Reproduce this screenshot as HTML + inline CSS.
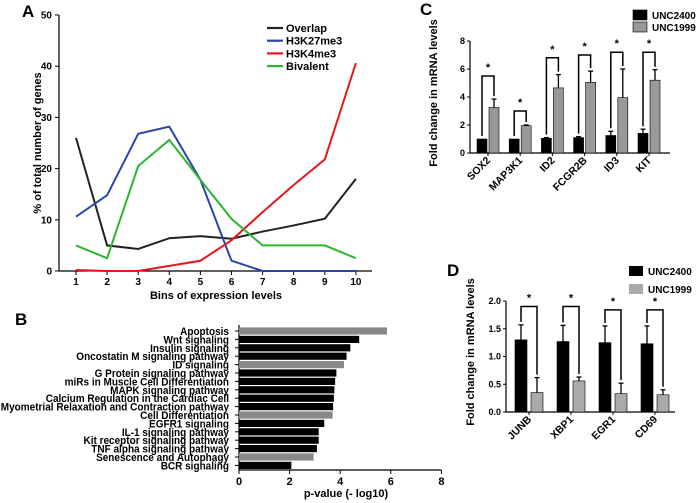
<!DOCTYPE html>
<html><head><meta charset="utf-8"><style>
html,body{margin:0;padding:0;background:#fff}
svg{display:block;font-family:"Liberation Sans",Arial,sans-serif;font-weight:bold}
</style></head><body>
<svg id="fig" width="700" height="503" viewBox="0 0 700 503">
<text x="22" y="17" font-size="17">A</text>
<text x="15" y="325" font-size="17">B</text>
<text x="420" y="15" font-size="17">C</text>
<text x="447" y="276" font-size="17">D</text>
<g id="A"></g>
<g id="B"></g>
<g id="C"></g>
<g id="D"></g>
</svg>
<script>
// Panel A data
const binsA = [1,2,3,4,5,6,7,8,9,10];
const yTicksA = [0,10,20,30,40,50];
const overlap = [26,5,4.3,6.4,6.8,6.3,7.7,8.9,10.2,18];
const h3k27 = [10.6,14.8,26.8,28.2,17.8,2,0,0,0,0];
const h3k4 = [0.2,0,0,1,2,6,11.5,16.8,21.8,40.6];
const bivalent = [5,2.5,20.5,25.6,17.8,10.2,5,5,5,2.5];
const seriesNamesA = ["Overlap","H3K27me3","H3K4me3","Bivalent"];
// Panel B data
const pathways = ["Apoptosis","Wnt signaling","Insulin signaling","Oncostatin M signaling pathway","ID signaling","G Protein signaling pathway","miRs in Muscle Cell Differentiation","MAPK signaling pathway","Calcium Regulation in the Cardiac Cell","Myometrial Relaxation and Contraction pathway","Cell Differentiation","EGFR1 signaling","IL-1 signaling pathway","Kit receptor signaling pathway","TNF alpha signaling pathway","Senescence and Autophagy","BCR signaling"];
const pvals = [5.85,4.75,4.4,4.25,4.15,3.85,3.8,3.77,3.75,3.72,3.7,3.37,3.15,3.15,3.08,2.95,2.07];
const grayFlags = [1,0,0,0,1,0,0,0,0,0,1,0,0,0,0,1,0];
const xTicksB = [0,2,4,6,8];
// Panel C data
const genesC = ["SOX2","MAP3K1","ID2","FCGR2B","ID3","KIT"];
const c2400 = [1,1,1.05,1.1,1.25,1.4];
const c2400err = [0,0,0.05,0.07,0.3,0.3];
const c1999 = [3.25,1.95,4.65,5.05,3.95,5.2];
const c1999err = [0.6,0.05,0.95,0.8,2.05,0.75];
const bracketC = [5.5,3,6.8,7,7.2,7.2];
const yTicksC = [0,2,4,6,8];
// Panel D data
const genesD = ["JUNB","XBP1","EGR1","CD69"];
const d2400 = [1.3,1.27,1.25,1.23];
const d2400err = [0.27,0.29,0.3,0.32];
const d1999 = [0.35,0.56,0.33,0.31];
const d1999err = [0.27,0.07,0.19,0.09];
const bracketD = [1.9,1.9,1.84,1.84];
const yTicksD = [0,0.5,1.0,1.5,2.0];

const NS="http://www.w3.org/2000/svg";
function mk(tag,attrs,parent,txt){const e=document.createElementNS(NS,tag);for(const k in attrs)e.setAttribute(k,attrs[k]);if(txt!==undefined)e.textContent=txt;parent.appendChild(e);return e;}

// ---------- Panel A ----------
(function(){
const g=document.getElementById('A');
const xA=b=>76+(b-1)*31.1, yA=v=>271-v*5.12;
let e;
e=mk('line',{x1:59,y1:15,x2:59,y2:271,stroke:'#000','stroke-width':1.2},g);


e=mk('line',{x1:59,y1:271,x2:372,y2:271,stroke:'#000','stroke-width':1.2},g);


yTicksA.forEach(t=>{
 mk('line',{x1:55,y1:yA(t),x2:59,y2:yA(t),stroke:'#000'},g);
 e=mk('text',{x:52,y:yA(t)+3.5,'font-size':10,'text-anchor':'end'},g,t);
 
 
});
binsA.forEach(b=>{
 mk('line',{x1:xA(b),y1:271,x2:xA(b),y2:275,stroke:'#000'},g);
 e=mk('text',{x:xA(b),y:285,'font-size':10,'text-anchor':'middle'},g,b);
 
 
});
e=mk('text',{x:216,y:299,'font-size':11,'text-anchor':'middle'},g,'Bins of expression levels');


e=mk('text',{x:0,y:0,'font-size':11,'text-anchor':'middle',transform:'translate(41,143) rotate(-90)'},g,'% of total number of genes');


const all=[overlap,h3k27,h3k4,bivalent], cols=['#222','#2b46a8','#e8161b','#2db52d'];
all.forEach((s,i)=>{
 e=mk('polyline',{points:s.map((v,j)=>xA(binsA[j])+','+yA(v)).join(' '),fill:'none',stroke:cols[i],'stroke-width':2},g);
 
 
 const ly=28+i*12.7;
 e=mk('line',{x1:267,y1:ly,x2:283,y2:ly,stroke:cols[i],'stroke-width':2.2},g);
 
 
 e=mk('text',{x:286,y:ly+4,'font-size':11},g,seriesNamesA[i]);
 
 
});
})();

// ---------- Panel B ----------
(function(){
const g=document.getElementById('B');
const xB=v=>239+v*25.3, yB=i=>331+i*8.4;
let e;
e=mk('line',{x1:239,y1:325,x2:239,y2:470,stroke:'#000','stroke-width':1.2},g);


e=mk('line',{x1:239,y1:470,x2:xB(8),y2:470,stroke:'#000','stroke-width':1.2},g);


xTicksB.forEach(t=>{
 mk('line',{x1:xB(t),y1:470,x2:xB(t),y2:474,stroke:'#000'},g);
 e=mk('text',{x:xB(t),y:485,'font-size':11,'text-anchor':'middle'},g,t);
 
 
});
e=mk('text',{x:346,y:497,'font-size':11,'text-anchor':'middle'},g,'p-value (- log10)');


pathways.forEach((p,i)=>{
 const y=yB(i);
 mk('line',{x1:235,y1:y,x2:239,y2:y,stroke:'#000'},g);
 e=mk('rect',{x:239,y:y-3.6,width:xB(pvals[i])-239,height:7.2,fill:grayFlags[i]?'#888':'#000'},g);
 
 
 e=mk('text',{x:0,y:0,'font-size':11.5,'text-anchor':'end',transform:'translate(229,'+(y+4)+') scale(0.87,1)'},g,p);
 
 
});
})();

// ---------- grouped bar helper ----------
function grouped(g,o){
 let e;
 const yS=v=>o.y0-v*o.k;
 e=mk('line',{x1:o.ax,y1:yS(o.ticks[o.ticks.length-1]),x2:o.ax,y2:o.y0,stroke:'#000','stroke-width':1.2},g);
 
 
 e=mk('line',{x1:o.ax,y1:o.y0,x2:o.axEnd,y2:o.y0,stroke:'#000','stroke-width':1.2},g);
 
 
 o.ticks.forEach(t=>{
  mk('line',{x1:o.ax-3,y1:yS(t),x2:o.ax,y2:yS(t),stroke:'#000'},g);
  e=mk('text',{x:o.ax-5,y:yS(t)+3,'font-size':9,'text-anchor':'end'},g,o.fmt(t));
  
  
 });
 e=mk('text',{x:0,y:0,'font-size':11,'text-anchor':'middle',transform:'translate('+o.tx+','+o.ty+') rotate(-90)'},g,'Fold change in mRNA levels');
 
 
 o.genes.forEach((gn,i)=>{
  const bx=o.x0+i*o.step, gx=bx+o.gap;
  const bc=bx+o.w/2, gc=gx+o.w/2;
  [[bx,o.a[i],o.ae[i],'#000'],[gx,o.b[i],o.be[i],o.gray]].forEach(([x,v,er,c])=>{
   e=mk('rect',{x:x,y:yS(v),width:o.w,height:o.y0-yS(v),fill:c,stroke:'#000','stroke-width':0.6},g);
   
   
   if(er>0){
    mk('line',{x1:x+o.w/2,y1:yS(v),x2:x+o.w/2,y2:yS(v+er),stroke:'#000','stroke-width':1.3},g);
    mk('line',{x1:x+o.w/2-2.5,y1:yS(v+er),x2:x+o.w/2+2.5,y2:yS(v+er),stroke:'#000','stroke-width':1.3},g);
   }
  });
  const top=yS(o.br[i]);
  e=mk('polyline',{points:bc+','+(yS(o.a[i]+o.ae[i])-3)+' '+bc+','+top+' '+gc+','+top+' '+gc+','+(yS(o.b[i]+o.be[i])-3),fill:'none',stroke:'#000','stroke-width':1.5},g);
  
  
  e=mk('text',{x:(bc+gc)/2,y:top-5,'font-size':11,'text-anchor':'middle'},g,'*');
  
  
  mk('line',{x1:(bc+gc)/2,y1:o.y0,x2:(bc+gc)/2,y2:o.y0+3,stroke:'#000'},g);
  e=mk('text',{x:0,y:0,'font-size':o.fs,'text-anchor':'end',transform:'translate('+((bc+gc)/2+3)+','+(o.y0+8)+') rotate(-45)'},g,gn);
  
  
 });
 [['UNC2400','#000'],['UNC1999',o.gray]].forEach(([n,c],j)=>{
  const ly=o.ly+j*o.lstep;
  e=mk('rect',{x:o.lx,y:ly-5,width:14,height:10,fill:c,stroke:o.lstroke?'#000':'none','stroke-width':0.6},g);
  
  
  e=mk('text',{x:o.lx+19,y:ly+4,'font-size':10.5,transform:'translate('+(o.lx+19)+',0) scale(0.95,1) translate('+(-(o.lx+19))+',0)'},g,n);
  
  
 });
}
grouped(document.getElementById('C'),{p:'c',ax:470,axEnd:670,y0:153,k:14,ticks:yTicksC,fmt:t=>t,tx:437,ty:93,
 genes:genesC,a:c2400,ae:c2400err,b:c1999,be:c1999err,br:bracketC,x0:477,step:32.2,gap:12,w:10,gray:'#999',fs:10.5,
 lx:633,ly:15,lstep:12,lstroke:true});
grouped(document.getElementById('D'),{p:'d',ax:506,axEnd:675,y0:412,k:55.5,ticks:yTicksD,fmt:t=>t.toFixed(1),tx:474,ty:352,
 genes:genesD,a:d2400,ae:d2400err,b:d1999,be:d1999err,br:bracketD,x0:515,step:42,gap:16,w:12,gray:'#aaa',fs:10.5,
 lx:629,ly:271,lstep:18,lstroke:false});
</script>
</body></html>
